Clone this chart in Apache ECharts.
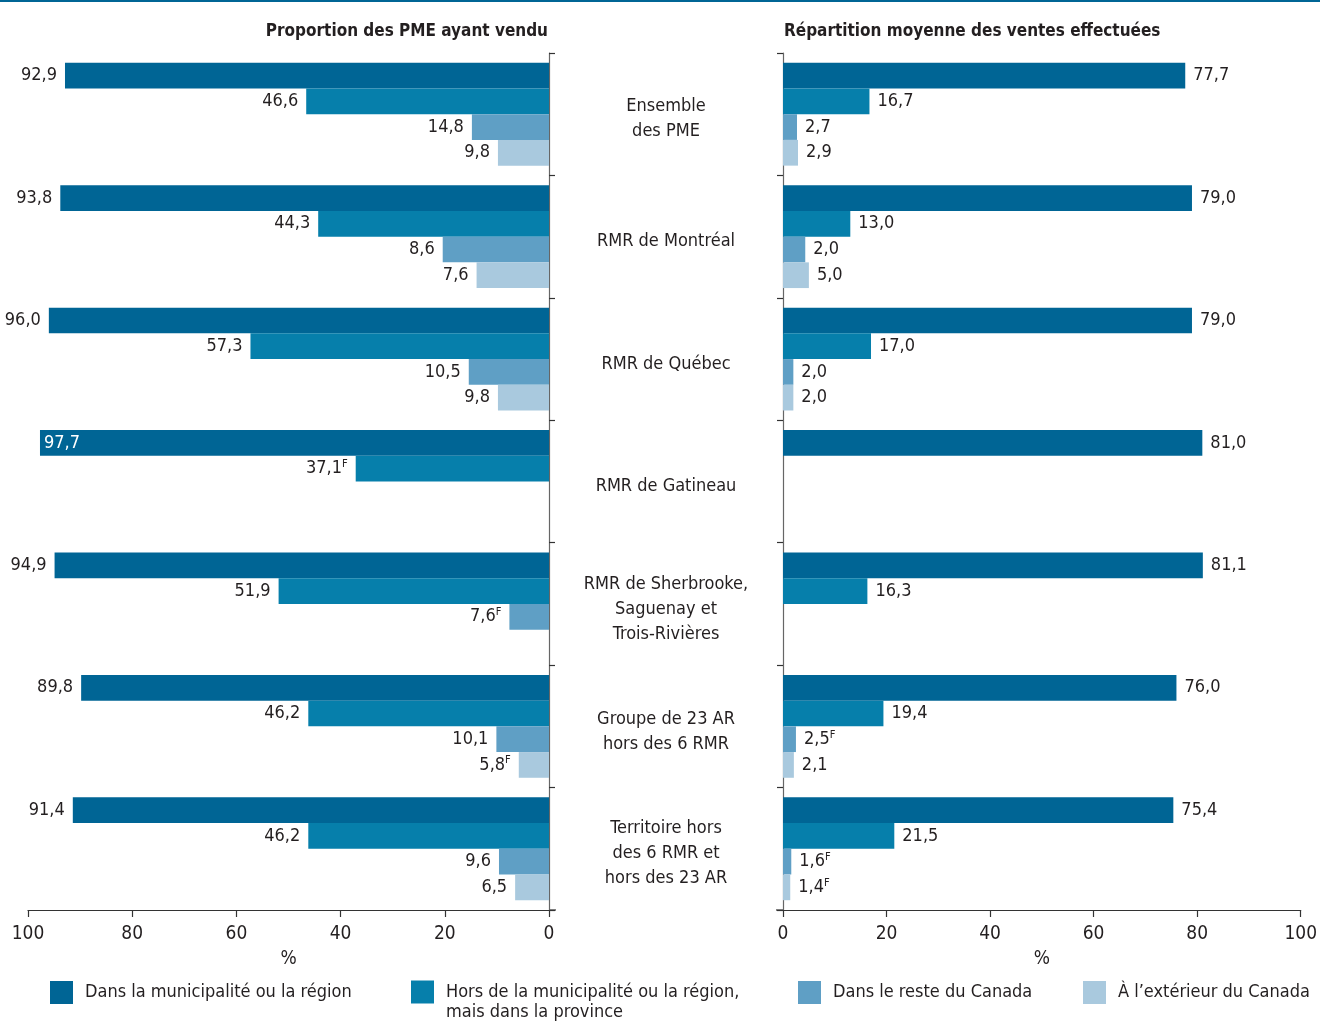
<!DOCTYPE html>
<html>
<head>
<meta charset="utf-8">
<script src="https://cdn.jsdelivr.net/npm/echarts@6/dist/echarts.min.js"></script>
<style>
  html, body { margin: 0; padding: 0; background: #fff; }
  #chart { width: 1320px; height: 1021px; }
</style>
</head>
<body>
<div id="chart"></div>
<script>
// ---- Data ----
const categories = [
  'Ensemble\ndes PME',
  'RMR de Montréal',
  'RMR de Québec',
  'RMR de Gatineau',
  'RMR de Sherbrooke,\nSaguenay et\nTrois-Rivières',
  'Groupe de 23 AR\nhors des 6 RMR',
  'Territoire hors\ndes 6 RMR et\nhors des 23 AR'
];
const seriesNames = [
  'Dans la municipalité ou la région',
  'Hors de la municipalité ou la région, mais dans la province',
  'Dans le reste du Canada',
  'À l’extérieur du Canada'
];
const xTicks = [0, 20, 40, 60, 80, 100];

// Left panel: proportion des PME ayant vendu (bar lengths as drawn)
const leftInMuni      = [92.9, 93.8, 96.0, 97.7, 94.9, 89.8, 91.4];
const leftOutMuni     = [46.6, 44.3, 57.3, 37.1, 51.9, 46.2, 46.2];
const leftRestCanada  = [14.8, 20.4, 15.4, null, 7.6, 10.1, 9.6];
const leftAbroad      = [9.8, 13.9, 9.8, null, null, 5.8, 6.5];
// Left panel printed labels (^F = superscript F)
const leftInMuniLbl     = ['92,9', '93,8', '96,0', '97,7', '94,9', '89,8', '91,4'];
const leftOutMuniLbl    = ['46,6', '44,3', '57,3', '37,1^F', '51,9', '46,2', '46,2'];
const leftRestCanadaLbl = ['14,8', '8,6', '10,5', '', '7,6^F', '10,1', '9,6'];
const leftAbroadLbl     = ['9,8', '7,6', '9,8', '', '', '5,8^F', '6,5'];

// Right panel: répartition moyenne des ventes effectuées
const rightInMuni     = [77.7, 79.0, 79.0, 81.0, 81.1, 76.0, 75.4];
const rightOutMuni    = [16.7, 13.0, 17.0, null, 16.3, 19.4, 21.5];
const rightRestCanada = [2.7, 4.3, 2.0, null, null, 2.5, 1.6];
const rightAbroad     = [2.9, 5.0, 2.0, null, null, 2.1, 1.4];
const rightInMuniLbl     = ['77,7', '79,0', '79,0', '81,0', '81,1', '76,0', '75,4'];
const rightOutMuniLbl    = ['16,7', '13,0', '17,0', '', '16,3', '19,4', '21,5'];
const rightRestCanadaLbl = ['2,7', '2,0', '2,0', '', '', '2,5^F', '1,6^F'];
const rightAbroadLbl     = ['2,9', '5,0', '2,0', '', '', '2,1', '1,4^F'];

// ---- Styles ----
const FONT = "'Liberation Sans Narrow', 'DejaVu Sans Condensed', 'Roboto Condensed', sans-serif";
const TXT = '#231f20';
const colors = ['#006595', '#067fab', '#5f9fc5', '#a9c9de'];

function fmtLabel(s) {
  if (!s) return '';
  const parts = s.split('^');
  return parts.length > 1 ? '{v|' + parts[0] + '}{s|' + parts[1] + '}' : '{v|' + s + '}';
}
const rich = {
  v: { fontSize: 18, fontFamily: FONT, color: TXT, lineHeight: 20 },
  s: { fontSize: 11, fontFamily: FONT, color: TXT, verticalAlign: 'top', lineHeight: 13 }
};

function makeSeries(name, idx, values, labels, grid, pos) {
  return {
    type: 'bar',
    name: name,
    xAxisIndex: grid,
    yAxisIndex: grid,
    barGap: '0%',
    barCategoryGap: '16%',
    itemStyle: { color: colors[idx] },
    emphasis: { disabled: true },
    data: values.map(function (v, i) {
      if (grid === 0 && idx === 0 && i === 3) {
        return { value: v, label: { position: 'insideLeft', distance: 4,
          rich: { v: Object.assign({}, rich.v, { color: '#fff' }) } } };
      }
      return v;
    }),
    label: {
      show: true,
      position: pos,
      distance: 8,
      formatter: function (p) { return fmtLabel(labels[p.dataIndex]); },
      rich: rich
    }
  };
}

const leftVals = [leftInMuni, leftOutMuni, leftRestCanada, leftAbroad];
const leftLbls = [leftInMuniLbl, leftOutMuniLbl, leftRestCanadaLbl, leftAbroadLbl];
const rightVals = [rightInMuni, rightOutMuni, rightRestCanada, rightAbroad];
const rightLbls = [rightInMuniLbl, rightOutMuniLbl, rightRestCanadaLbl, rightAbroadLbl];

const series = [];
for (let i = 0; i < 4; i++) series.push(makeSeries(seriesNames[i], i, leftVals[i], leftLbls[i], 0, 'left'));
for (let i = 0; i < 4; i++) series.push(makeSeries(seriesNames[i], i, rightVals[i], rightLbls[i], 1, 'right'));

function xAxis(grid, inverse) {
  return {
    type: 'value', gridIndex: grid, min: xTicks[0], max: xTicks[xTicks.length - 1], interval: 20,
    inverse: inverse,
    axisLine: { show: true, lineStyle: { color: '#333', width: 1.2 } },
    axisTick: { show: true, length: 7, lineStyle: { color: '#333', width: 1.2 } },
    splitLine: { show: false },
    axisLabel: { fontSize: 19, fontFamily: FONT, color: TXT, margin: 15 },
    name: '%', nameLocation: 'middle', nameGap: 40,
    nameTextStyle: { fontSize: 19, fontFamily: FONT, color: TXT }
  };
}
function yAxis(grid, position, showLabel) {
  return {
    type: 'category', gridIndex: grid, data: categories, inverse: true, position: position,
    axisLine: { show: true, lineStyle: { color: '#666', width: 1.2 } },
    axisTick: { show: true, length: 6, lineStyle: { color: '#333', width: 1.2 } },
    axisLabel: showLabel ? {
      show: true, align: 'center', margin: 117,
      formatter: function (val) {
        return '{gap| }\n' + val.split('\n').map(function (l) { return '{c|' + l + '}'; }).join('\n');
      },
      rich: {
        gap: { fontSize: 1, lineHeight: 10 },
        c: { fontSize: 18, fontFamily: FONT, color: TXT, lineHeight: 25, align: 'center' }
      }
    } : { show: false }
  };
}

function legend(i, left, top, text) {
  return {
    left: left, top: top, padding: 0,
    icon: 'rect', itemWidth: 23, itemHeight: 23,
    selectedMode: false,
    data: [{ name: seriesNames[i] }],
    formatter: function () { return text; },
    textStyle: { fontSize: 18, fontFamily: FONT, color: TXT, lineHeight: 20,
      padding: [0, 0, 0, 7] }
  };
}

const option = {
  animation: false,
  backgroundColor: '#fff',
  color: colors,
  title: [
    { text: 'Proportion des PME ayant vendu', right: 772, top: 23, padding: 0,
      textStyle: { fontSize: 17, fontWeight: 'bold', fontFamily: FONT, color: TXT } },
    { text: 'Répartition moyenne des ventes effectuées', left: 784, top: 23, padding: 0,
      textStyle: { fontSize: 17, fontWeight: 'bold', fontFamily: FONT, color: TXT } }
  ],
  graphic: [
    { type: 'rect', shape: { x: 0, y: 0, width: 1320, height: 2 }, style: { fill: '#006595' }, silent: true },
    { type: 'line', shape: { x1: 549, y1: 910, x2: 556, y2: 910 }, style: { stroke: '#333', lineWidth: 1.2 }, silent: true },
    { type: 'line', shape: { x1: 776, y1: 910, x2: 783, y2: 910 }, style: { stroke: '#333', lineWidth: 1.2 }, silent: true }
  ],
  grid: [
    { left: 28, width: 521, top: 53, height: 857 },
    { left: 783, width: 519, top: 53, height: 857 }
  ],
  xAxis: [xAxis(0, true), xAxis(1, false)],
  yAxis: [yAxis(0, 'right', false), yAxis(1, 'left', true)],
  legend: [
    legend(0, 50, 981, 'Dans la municipalité ou la région'),
    legend(1, 411, 962, '\nHors de la municipalité ou la région,\nmais dans la province'),
    legend(2, 798, 981, 'Dans le reste du Canada'),
    legend(3, 1083, 981, 'À l’extérieur du Canada')
  ],
  series: series
};

const chart = echarts.init(document.getElementById('chart'), null, { renderer: 'canvas' });
chart.setOption(option);
</script>
</body>
</html>
